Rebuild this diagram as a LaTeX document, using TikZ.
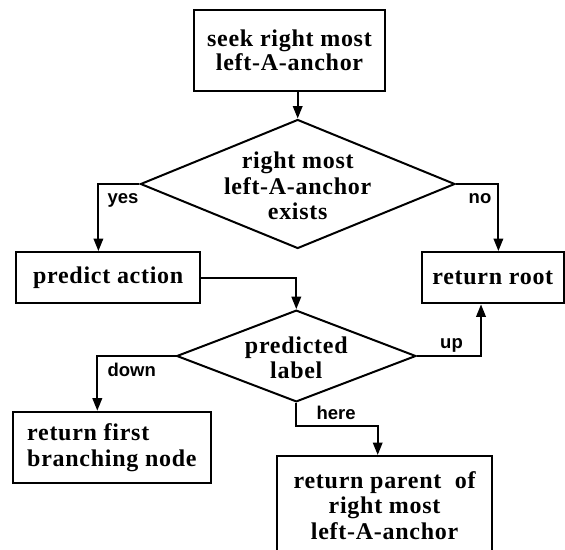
\documentclass[tikz,border=0pt]{standalone}
\usepackage{fontspec}
\setmainfont{Liberation Serif}[LetterSpace=3]
\newfontfamily\lblfont{Liberation Sans}
\usetikzlibrary{shapes.geometric,arrows.meta}
\tikzset{
  txt/.style={font=\fontsize{24}{25.5}\selectfont\bfseries, align=center},
  box/.style={draw, line width=2pt, rectangle, inner sep=0pt, txt},
  dia/.style={draw, line width=2pt, diamond, inner sep=0pt},
  lbl/.style={font=\lblfont\bfseries\fontsize{18.5}{20}\selectfont, inner sep=0pt},
  arr/.style={line width=2pt, -{Triangle[length=12.5pt,width=9.5pt]}},
}
\begin{document}
\begin{tikzpicture}[x=1pt, y=-1pt]
\useasboundingbox (0,0) rectangle (565,549);
\node[box, minimum width=191pt, minimum height=81pt, font=\fontsize{24}{24.5}\selectfont\bfseries] (seek) at (289.5,50.5) {seek right most\\left-A-anchor};
\node[dia, minimum width=314.5pt, minimum height=129pt, label={[txt, yshift=-2pt]center:{right most\\left-A-anchor\\exists}}] (d1) at (297.7,184) {};
\node[box, minimum width=184.5pt, minimum height=51.3pt] (predict) at (108.2,277.7) {predict action};
\node[box, minimum width=142.4pt, minimum height=51.3pt] (root) at (492.8,277.7) {return root};
\node[dia, minimum width=239.3pt, minimum height=91.7pt, label={[txt, yshift=-2pt]center:{predicted\\label}}] (d2) at (296.3,356) {};
\node[box, minimum width=197.8pt, minimum height=71.6pt, align=left] (first) at (111.9,447.5) {return first\\branching node};
\node[box, minimum width=214.4pt, minimum height=99pt] (parent) at (384.6,505.5) {return parent\ \ of\\right most\\left-A-anchor};

\draw[arr] (seek.south -| d1.north) -- (d1.north);
\draw[arr] (d1.west) -| ([xshift=-9.8pt]predict.north);
\draw[arr] (d1.east) -| ([xshift=5.6pt]root.north);
\draw[arr] (predict.east) -| (d2.north);
\draw[arr] (d2.east) -| ([xshift=-11.8pt]root.south);
\draw[arr] (d2.west) -| ([xshift=-14.6pt]first.north);
\draw[arr] (d2.south) -- ++(0,23.3) -| ([xshift=-6.9pt]parent.north);

\node[lbl, anchor=base west] (lyes) at (107.3,203.3) {yes};
\node[lbl, anchor=base west] (lno) at (468.5,203) {no};
\node[lbl, anchor=base west] (lup) at (440,348) {up};
\node[lbl, anchor=base west] (ldown) at (107.4,376) {down};
\node[lbl, anchor=base west] (lhere) at (316.4,419) {here};
\end{tikzpicture}
\end{document}
